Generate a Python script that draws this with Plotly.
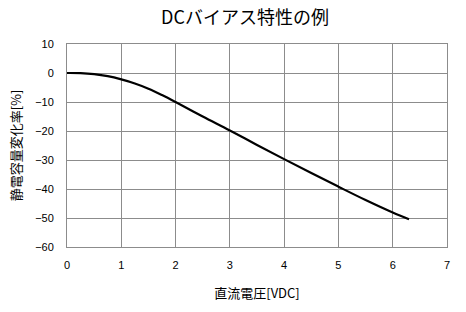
import plotly.graph_objects as go

voltage = [0, 0.25, 0.5, 0.75, 1.0, 1.25, 1.5, 1.75, 2.0, 2.5, 3.0, 3.5, 4.0, 4.5, 5.0, 5.5, 6.0, 6.3]
change = [0, -0.05, -0.4, -1.1, -2.2, -3.6, -5.4, -7.6, -10.0, -15.0, -19.8, -24.8, -29.7, -34.5, -39.2, -43.8, -48.1, -50.4]

x_ticks = [0, 1, 2, 3, 4, 5, 6, 7]
y_ticks = [10, 0, -10, -20, -30, -40, -50, -60]

fig = go.Figure()
fig.add_trace(go.Scatter(x=voltage, y=change, mode="lines",
                         line=dict(color="black", width=2.2, shape="spline", smoothing=1.0),
                         showlegend=False, hoverinfo="skip"))

grid = "#8c8c8c"
fig.update_layout(
    width=466, height=312,
    margin=dict(l=67, r=19, t=44, b=65),
    paper_bgcolor="white", plot_bgcolor="white",
    font=dict(family="Liberation Sans, Arial, sans-serif", color="black"),
    title=dict(text="DCバイアス特性の例", x=245/466, xanchor="center", y=1-18/312, yanchor="middle",
               font=dict(family="Noto Sans CJK JP", size=18, color="black")),
    xaxis=dict(range=[0, 7], tickvals=x_ticks, showgrid=True, gridcolor=grid, gridwidth=1,
               zeroline=False, showline=True, linecolor=grid, mirror=True, ticks="",
               tickfont=dict(size=11), ticklabelstandoff=8,
               title=dict(text="直流電圧[VDC]", font=dict(family="Noto Sans CJK JP", size=13), standoff=18)),
    yaxis=dict(range=[-60, 10], tickvals=y_ticks, showgrid=True, gridcolor=grid, gridwidth=1,
               zeroline=False, showline=True, linecolor=grid, mirror=True, ticks="",
               tickfont=dict(size=11), ticklabelstandoff=10,
               title=dict(text="静電容量変化率[%]", font=dict(family="Noto Sans CJK JP", size=13), standoff=10)),
)

fig.write_html("out.html")
